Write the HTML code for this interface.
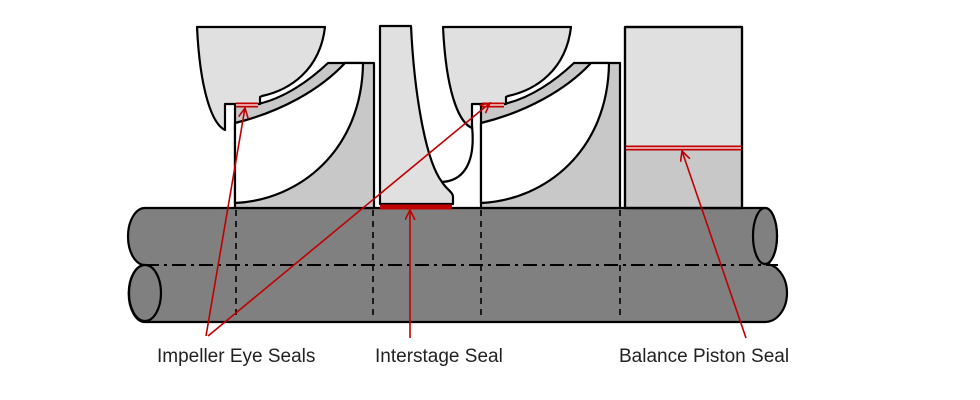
<!DOCTYPE html>
<html><head><meta charset="utf-8"><style>
html,body{margin:0;padding:0;background:#fff;}
svg{display:block;}
text{font-family:"Liberation Sans",sans-serif;font-size:19px;fill:#222;}
</style></head><body>
<svg width="980" height="400" viewBox="0 0 980 400" xmlns="http://www.w3.org/2000/svg">
<defs>
<marker id="ah" markerWidth="12" markerHeight="12" refX="10" refY="5" orient="auto" markerUnits="userSpaceOnUse">
<path d="M0,0 L10,5 L0,10" fill="none" stroke="#c00000" stroke-width="1.6"/>
</marker>
</defs>
<g stroke="#000" stroke-width="2.2" stroke-linejoin="round">
<path d="M145,208 L765,208 A12,28 0 0 1 765,264 A22,29 0 0 1 765,322 L145,322 A16,28 0 0 1 145,265 A17,28.5 0 0 1 145,208 Z" fill="#808080"/>
<ellipse cx="145" cy="293" rx="16" ry="28" fill="#808080"/>
<ellipse cx="765" cy="236" rx="12" ry="28" fill="#808080"/>
</g>
<g stroke="#000" stroke-width="1.6" stroke-dasharray="6,5" fill="none">
<line x1="236" y1="210" x2="236" y2="320"/>
<line x1="373" y1="210" x2="373" y2="320"/>
<line x1="481" y1="210" x2="481" y2="320"/>
<line x1="620" y1="210" x2="620" y2="320"/>
</g>
<line x1="145" y1="265" x2="778" y2="265" stroke="#000" stroke-width="2" stroke-dasharray="14,5,3,5"/>

<g stroke="#000" stroke-width="2.2" stroke-linejoin="round">
<path d="M235,208 L235,104 L258,104 C285,98 310,80 328,63 L374,63 L374,208 Z" fill="#c8c8c8"/>
<path d="M235,123 C280,112 320,90 345,63 L363,63 C362,150 300,200 235,203 Z" fill="#fff"/>
<path d="M197,27 L325,27 C320,70 290,90 262,96 L260,97 L260,104 L225,104 L225,130 C212,124 200,90 197,27 Z" fill="#e0e0e0"/>
<path d="M481,208 L481,104 L504,104 C531,98 556,80 574,63 L620,63 L620,208 Z" fill="#c8c8c8"/>
<path d="M481,123 C526,112 566,90 591,63 L609,63 C608,150 546,200 481,203 Z" fill="#fff"/>
<path d="M443,27 L571,27 C566,70 536,90 508,96 L506,97 L506,104 L472,104 L472,128 C458,122 446,90 443,27 Z" fill="#e0e0e0"/>
<path d="M472,126 C476,165 462,182 440,182" fill="none"/>
<path d="M380,26 L411,26 C414,90 425,160 442,182 C447,190 453,192 453,197 L453,204 L380,204 Z" fill="#e0e0e0"/>
<rect x="625" y="148" width="117" height="60" fill="#c8c8c8"/>
<rect x="625" y="27" width="117" height="121" fill="#e0e0e0"/>
<rect x="625" y="27" width="117" height="181" fill="none"/>
</g>
<g stroke="#c00000" stroke-width="5">
<line x1="236" y1="105" x2="258" y2="105"/>
<line x1="482" y1="105" x2="504" y2="105"/>
<line x1="380" y1="207" x2="452" y2="207"/>
<line x1="626" y1="148" x2="741" y2="148"/>
</g>
<g stroke="#fff" stroke-width="1.3">
<line x1="236" y1="105" x2="258" y2="105"/>
<line x1="482" y1="105" x2="504" y2="105"/>
<line x1="626" y1="148" x2="741" y2="148"/>
</g>
<g stroke="#c00000" stroke-width="1.6" fill="none">
<line x1="206" y1="336" x2="245" y2="108" marker-end="url(#ah)"/>
<line x1="208" y1="336" x2="490" y2="103" marker-end="url(#ah)"/>
<line x1="410" y1="338" x2="410" y2="210" marker-end="url(#ah)"/>
<line x1="746" y1="338" x2="682" y2="151" marker-end="url(#ah)"/>
</g>
<text x="157" y="362">Impeller Eye Seals</text>
<text x="375" y="362">Interstage Seal</text>
<text x="619" y="362">Balance Piston Seal</text>
</svg>
</body></html>
